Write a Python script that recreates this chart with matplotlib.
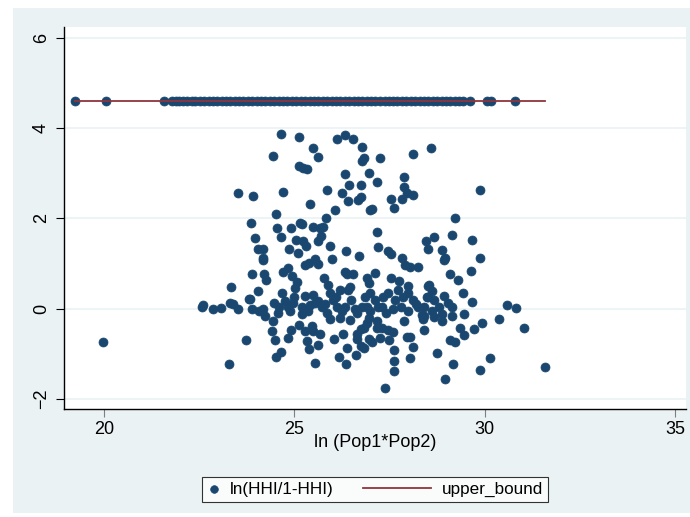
import matplotlib.pyplot as plt
from matplotlib.patches import Rectangle
from matplotlib.legend_handler import HandlerPathCollection, HandlerLine2D

# ln(Pop1*Pop2) and ln(HHI/1-HHI)
pop_x = [23.53, 23.92, 23.87, 23.97, 24.05,
         24.66, 25.13, 24.45, 25.50, 25.63, 25.13, 25.24, 25.34, 26.13, 26.34, 26.53, 26.79, 26.82, 26.79,
         27.26, 28.11, 28.58,
         26.34, 26.97, 26.45, 26.76, 27.18, 25.87, 26.24, 24.71, 26.74, 26.68, 26.42, 25.42, 27.87, 27.89,
         27.97, 28.13, 27.84, 27.53, 27.61, 26.08, 27.00, 27.05, 24.53, 25.82,
         24.55, 24.92, 25.16, 25.21, 25.50, 25.68, 25.76, 25.71, 25.63, 24.66, 25.05, 25.24, 25.32, 24.87,
         25.11, 25.95, 27.16, 27.21, 27.45, 27.55, 27.84, 28.47, 28.50, 26.37, 26.71, 26.00, 25.55, 24.18,
         24.18,
         29.87, 29.21, 28.66, 29.13, 28.89, 29.66, 28.97, 29.87,
         19.97, 22.58, 22.61, 22.87, 23.08, 23.34, 23.32, 23.40, 23.53, 23.82, 23.89, 23.89, 24.05, 24.08,
         23.74, 23.29,
         24.18, 24.21, 24.26, 24.71, 24.84, 24.95, 25.08, 25.03, 25.29, 25.39, 25.61, 25.79, 26.34, 26.39,
         26.55, 26.92, 26.95, 27.11, 27.53, 27.74, 27.92, 28.05, 28.24, 28.00, 28.50,
         23.84, 24.18, 24.24, 24.47, 24.58, 24.68,
         24.76, 24.84, 24.97, 25.20, 25.28, 25.41, 25.54, 25.62, 25.72, 25.88, 25.94, 26.02, 26.12, 26.20,
         26.33, 26.41, 26.46, 26.59, 26.77, 26.86, 26.99, 27.12, 27.20, 27.33, 27.46, 27.64, 27.72, 27.85,
         27.99, 28.12, 28.25, 28.35, 28.49,
         24.60, 24.90, 25.00, 25.35, 25.50, 25.80, 25.85, 26.10, 26.25, 26.50, 26.65, 26.90, 27.00, 27.30,
         27.40, 27.60, 27.80, 28.00, 28.20, 28.40,
         24.45, 25.20, 25.13, 25.47, 25.50, 25.68, 25.95, 26.21, 26.47, 26.95, 27.18, 26.92, 26.74, 26.82,
         26.66, 26.66, 26.74, 26.95, 27.03, 26.82, 27.18, 27.31, 27.45, 27.58, 27.26, 27.50, 27.97, 28.05,
         28.11, 28.03, 27.63, 27.61, 27.63, 27.37, 28.42, 27.89, 28.39,
         24.42, 24.50, 24.92, 24.84, 24.53, 24.66, 25.29, 25.34, 25.39, 25.63, 25.55, 26.03, 26.29, 26.39,
         26.18, 26.37, 26.63,
         28.92, 29.63, 29.10, 29.29, 28.53, 28.61, 28.92, 29.42, 29.68, 28.50, 28.66, 29.05, 29.13, 28.79,
         28.61, 28.87, 28.66, 29.13, 28.40, 28.89, 29.45, 30.58, 30.82, 30.39, 29.92, 29.71, 29.34, 29.47,
         29.08, 29.21, 31.03, 30.13, 28.76, 29.18, 29.89, 28.97, 31.58]
hhi_y = [2.56, 2.49, 1.91, 1.56, 1.33,
         3.87, 3.80, 3.38, 3.56, 3.36, 3.16, 3.11, 3.09, 3.76, 3.84, 3.76, 3.58, 3.33, 3.27,
         3.33, 3.42, 3.55,
         2.98, 3.00, 2.73, 2.73, 2.80, 2.64, 2.56, 2.58, 2.47, 2.40, 2.38, 2.31, 2.91, 2.69,
         2.56, 2.51, 2.44, 2.42, 2.24, 2.18, 2.18, 2.20, 2.09, 2.02,
         1.78, 1.78, 1.91, 1.87, 1.82, 1.78, 1.80, 1.62, 1.51, 1.58, 1.53, 1.49, 1.38, 1.33,
         1.24, 1.40, 1.69, 1.36, 1.29, 1.22, 1.13, 1.51, 1.33, 1.27, 1.16, 1.11, 1.11, 1.33,
         1.13,
         2.62, 2.00, 1.58, 1.64, 1.31, 1.53, 1.13, 1.13,
         -0.73, 0.04, 0.09, 0.00, 0.02, 0.49, 0.13, 0.11, 0.00, 0.22, 0.76, 0.00, 0.40, -0.04,
         -0.69, -1.22,
         1.07, 0.78, 0.64, 0.82, 0.91, 0.73, 0.60, 0.47, 0.96, 1.02, 1.00, 0.69, 0.82, 0.76,
         0.78, 0.69, 0.56, 0.80, 0.69, 0.62, 0.96, 0.93, 0.93, 0.51, 0.51,
         0.22, 0.00, -0.16, 0.13, -0.09, 0.36,
         0.18, 0.03, 0.12, 0.03, 0.29, 0.08, 0.12, 0.18, 0.03, 0.52, 0.34, 0.19, 0.04, 0.41,
         0.04, 0.41, 0.48, 0.00, 0.04, 0.26, 0.35, 0.19, 0.04, 0.26, 0.35, 0.19, 0.41, 0.26,
         0.35, 0.19, 0.04, -0.14, 0.26,
         0.05, -0.05, 0.25, -0.05, 0.30, 0.10, -0.10, 0.25, -0.05, 0.20, -0.10, 0.05, -0.05, 0.05,
         -0.10, 0.00, 0.05, -0.05, 0.10, 0.05,
         -0.27, -0.11, -0.36, -0.38, -0.49, -0.56, -0.22, -0.20, -0.24, -0.20, -0.27, -0.31, -0.44, -0.42,
         -0.56, -0.67, -0.82, -0.67, -0.73, -0.87, -0.42, -0.42, -0.47, -0.51, -0.64, -0.69, -0.62, -0.62,
         -0.84, -1.09, -0.91, -1.16, -1.38, -1.76, -0.47, -0.27, -0.22,
         -0.49, -0.69, -0.47, -0.64, -1.07, -0.96, -0.49, -0.71, -0.89, -0.80, -1.20, -0.67, -0.56, -0.87,
         -1.07, -1.22, -1.02,
         1.07, 0.84, 0.78, 0.64, 0.53, 0.40, 0.29, 0.36, 0.16, 0.25, 0.19, 0.12, 0.03, 0.03,
         -0.04, -0.11, -0.18, -0.16, -0.16, -0.27, -0.11, 0.09, 0.02, -0.22, -0.31, -0.44, -0.42, -0.58,
         -0.69, -0.73, -0.42, -1.09, -0.98, -1.22, -1.36, -1.56, -1.29]

# observations sitting on the upper bound (y = 4.6)
cap_x = [19.24, 20.05, 21.57, 21.78, 21.88, 21.97, 22.08, 22.19, 22.31, 22.40, 22.52, 22.63, 22.75,
         22.86, 22.97, 23.09, 23.20, 23.31, 23.43, 23.55, 23.66, 23.78, 23.90, 24.01, 24.13, 24.24,
         24.36, 24.47, 24.59, 24.70, 24.82, 24.94, 25.05, 25.17, 25.28, 25.40, 25.51, 25.63, 25.75,
         25.86, 25.98, 26.09, 26.21, 26.32, 26.44, 26.56, 26.67, 26.79, 26.90, 27.02, 27.13, 27.25,
         27.37, 27.48, 27.60, 27.71, 27.83, 27.94, 28.06, 28.18, 28.29, 28.41, 28.52, 28.64, 28.75,
         28.87, 28.99, 29.10, 29.22, 29.33, 29.42, 29.62, 30.05, 30.18, 30.79]
cap_y = [4.6] * len(cap_x)

# upper_bound line
bound_x = [19.24, 31.59]
bound_y = [4.6, 4.6]

xticks = [20, 25, 30, 35]
yticks = [-2, 0, 2, 4, 6]

navy = '#1A476F'
maroon = '#90353B'
bg = '#EAF2F3'


# stata-like legend keys: short key for the marker, long one for the line
class ShortMarkerKey(HandlerPathCollection):
    def legend_artist(self, legend, orig_handle, fontsize, handlebox):
        handlebox.width = 0.75 * fontsize
        return super().legend_artist(legend, orig_handle, fontsize, handlebox)


class LongLineKey(HandlerLine2D):
    def legend_artist(self, legend, orig_handle, fontsize, handlebox):
        handlebox.width = 4.0 * fontsize
        return super().legend_artist(legend, orig_handle, fontsize, handlebox)


plt.rcParams['font.family'] = ['Liberation Sans', 'DejaVu Sans']

fig = plt.figure(figsize=(6.9, 5.17), dpi=100, facecolor='white')
fig.patches.append(Rectangle((13 / 690, 4 / 517), 677 / 690, 505 / 517,
                             transform=fig.transFigure, facecolor=bg, edgecolor='none', zorder=-10))

ax = fig.add_axes([64 / 690, 108 / 517, 622 / 690, 382 / 517])
ax.set_facecolor('white')

sc = ax.scatter(pop_x + cap_x, hhi_y + cap_y, s=42, color=navy, edgecolors=navy, linewidths=0.5,
                zorder=3, label='ln(HHI/1-HHI)')
ln, = ax.plot(bound_x, bound_y, color=maroon, lw=1.3, zorder=4, label='upper_bound')

ax.set_xlim(18.95, 35.29)
ax.set_ylim(-2.22, 6.24)
ax.set_xticks(xticks)
ax.set_yticks(yticks)
ax.grid(axis='y', color=bg, lw=1.2, zorder=0)
ax.grid(axis='x', visible=False)

for s in ['top', 'right']:
    ax.spines[s].set_visible(False)
for s in ['left', 'bottom']:
    ax.spines[s].set_color('black')
    ax.spines[s].set_linewidth(1.0)

ax.tick_params(axis='x', length=6, color='#808080', labelsize=13, pad=3)
ax.tick_params(axis='y', length=6, color='black', labelsize=13, pad=4)
for lbl in ax.get_yticklabels():
    lbl.set_rotation(90)
    lbl.set_va('center')

ax.set_xlabel('ln (Pop1*Pop2)', fontsize=13, labelpad=-3)

leg = fig.legend([sc, ln], ['ln(HHI/1-HHI)', 'upper_bound'],
                 loc='center', bbox_to_anchor=(375 / 690, (517 - 489.5) / 517), ncol=2,
                 fontsize=12.3, frameon=True, fancybox=False, edgecolor='black',
                 handlelength=2.0, columnspacing=1.7, handletextpad=0.6, borderpad=0.3,
                 borderaxespad=0, scatterpoints=1, markerscale=0.85,
                 handler_map={sc: ShortMarkerKey(), ln: LongLineKey()})
leg.get_frame().set_linewidth(0.8)

fig.savefig('out.png', dpi=100, facecolor='white')
